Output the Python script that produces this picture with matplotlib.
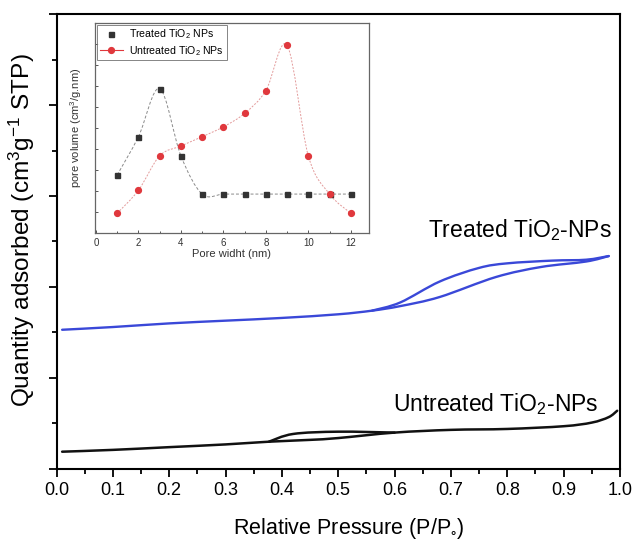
import numpy as np
import matplotlib
matplotlib.use('Agg')
import matplotlib.pyplot as plt
from matplotlib.path import Path
from matplotlib.patches import PathPatch
from matplotlib.lines import Line2D
from matplotlib.ticker import MultipleLocator

plt.rcParams['font.family'] = ['Liberation Sans', 'DejaVu Sans']
plt.rcParams['mathtext.fontset'] = 'custom'
plt.rcParams['mathtext.rm'] = 'Liberation Sans'
plt.rcParams['mathtext.it'] = 'Liberation Sans'

# isotermas de adsorção/dessorção de N2
treated_ads_x = [0.01, 0.10, 0.20, 0.30, 0.40, 0.50, 0.56, 0.61, 0.68, 0.78, 0.86, 0.94, 0.98]
treated_ads_y = [1.53, 1.56, 1.60, 1.63, 1.66, 1.70, 1.74, 1.79, 1.89, 2.11, 2.22, 2.28, 2.34]
treated_des_x = [0.98, 0.94, 0.88, 0.80, 0.75, 0.68, 0.61, 0.56]
treated_des_y = [2.34, 2.30, 2.29, 2.26, 2.21, 2.06, 1.83, 1.74]

untreated_ads_x = [0.01, 0.10, 0.20, 0.30, 0.377, 0.45, 0.50, 0.60, 0.70, 0.80, 0.90, 0.95, 0.98, 0.995]
untreated_ads_y = [0.19, 0.21, 0.24, 0.27, 0.30, 0.32, 0.34, 0.40, 0.43, 0.44, 0.47, 0.51, 0.57, 0.64]
untreated_des_x = [0.60, 0.50, 0.42, 0.377]
untreated_des_y = [0.40, 0.41, 0.385, 0.30]

# distribuição de tamanho de poros (inset)
pore_w = [1, 2, 3, 4, 5, 6, 7, 8, 9, 10, 11, 12]
pore_treated = [2.76, 4.58, 6.87, 3.67, 1.85, 1.85, 1.85, 1.85, 1.85, 1.85, 1.85, 1.85]
pore_untreated = [0.94, 2.03, 3.67, 4.14, 4.58, 5.05, 5.69, 6.77, 8.93, 3.67, 1.85, 0.94]


def curva_suave(x, y):
    # caminho bezier (catmull-rom) passando pelos pontos
    p = np.column_stack([x, y]).astype(float)
    verts = [p[0]]
    codes = [Path.MOVETO]
    n = len(p)
    for i in range(n - 1):
        p0 = p[i - 1] if i > 0 else p[i]
        p3 = p[i + 2] if i + 2 < n else p[i + 1]
        c1 = p[i] + (p[i + 1] - p0) / 6
        c2 = p[i + 1] - (p3 - p[i]) / 6
        verts += [c1, c2, p[i + 1]]
        codes += [Path.CURVE4] * 3
    return Path(verts, codes)


fig = plt.figure(figsize=(6.37, 5.43), dpi=100)
ax = fig.add_axes([0.0887, 0.1363, 0.8846, 0.8379])

azul = '#3a48d8'
for xs, ys in [(treated_ads_x, treated_ads_y), (treated_des_x, treated_des_y)]:
    ax.add_patch(PathPatch(curva_suave(xs, ys), fill=False, ec=azul, lw=1.7, capstyle='round'))
for xs, ys in [(untreated_ads_x, untreated_ads_y), (untreated_des_x, untreated_des_y)]:
    ax.add_patch(PathPatch(curva_suave(xs, ys), fill=False, ec='#111111', lw=1.8, capstyle='round'))

ax.set_xlim(0, 1)
ax.set_ylim(0, 5)
ax.xaxis.set_major_locator(MultipleLocator(0.1))
ax.xaxis.set_minor_locator(MultipleLocator(0.05))
ax.yaxis.set_major_locator(MultipleLocator(1))
ax.yaxis.set_minor_locator(MultipleLocator(0.5))
ax.set_yticklabels([])
ax.tick_params(which='both', direction='out', width=1.3, labelsize=13)
ax.tick_params(which='major', length=6)
ax.tick_params(which='minor', length=3.5)
ax.xaxis.set_major_formatter(matplotlib.ticker.FormatStrFormatter('%.1f'))
for s in ax.spines.values():
    s.set_linewidth(1.5)

ax.set_xlabel('Relative Pressure (P/P$_{\u2218}$)', fontsize=15.5)
ax.xaxis.set_label_coords(0.519, -0.103)
# rótulo do eixo y posicionado direto na figura
fig.text(0.035, 0.576, 'Quantity adsorbed (cm$^{3}$g$^{-1}$ STP)', fontsize=17.6,
         rotation=90, ha='center', va='center')

ax.text(0.986, 2.63, 'Treated TiO$_{2}$-NPs', fontsize=16.5, ha='right', va='center')
ax.text(0.962, 0.71, 'Untreated TiO$_{2}$-NPs', fontsize=16.5, ha='right', va='center')

# inset
ins = fig.add_axes([0.149, 0.571, 0.430, 0.387])
ins.add_patch(PathPatch(curva_suave(pore_w, pore_treated), fill=False, ec='#8a8a8a',
                        lw=0.7, ls=(0, (3, 2))))
ins.add_patch(PathPatch(curva_suave(pore_w, pore_untreated), fill=False, ec='#e39a9a',
                        lw=0.7, ls=(0, (2, 1.5))))
ins.plot(pore_w, pore_treated, 's', color='#333333', ms=3.6, ls='none')
ins.plot(pore_w, pore_untreated, 'o', color='#e0383d', ms=4.2, ls='none')

ins.set_xlim(-0.05, 12.85)
ins.set_ylim(0, 10)
ins.xaxis.set_major_locator(MultipleLocator(2))
ins.xaxis.set_minor_locator(MultipleLocator(1))
ins.yaxis.set_major_locator(MultipleLocator(1))
ins.set_yticklabels([])
ins.tick_params(which='both', direction='in', length=2.5, width=0.7, colors='#555555',
                labelsize=7, labelcolor='#333333')
ins.tick_params(which='minor', length=1.5)
for s in ins.spines.values():
    s.set_linewidth(0.9)
    s.set_color('#666666')
ins.set_xlabel('Pore widht (nm)', fontsize=8, labelpad=1, color='#333333')
ins.set_ylabel('pore volume (cm$^{3}$/g.nm)', fontsize=8, labelpad=4, color='#333333')

handles = [
    Line2D([], [], marker='s', color='#333333', ms=3.6, ls='none'),
    Line2D([], [], marker='o', color='#e0383d', ms=4.2, lw=0.8),
]
leg = ins.legend(handles, ['Treated TiO$_{2}$ NPs', 'Untreated TiO$_{2}$ NPs'],
                 loc='upper left', fontsize=7.6, frameon=True, fancybox=False,
                 borderaxespad=0.2, handlelength=2.2, borderpad=0.25, labelspacing=0.25,
                 handletextpad=0.6)
leg.get_frame().set_edgecolor('#666666')
leg.get_frame().set_linewidth(0.7)

fig.savefig('out.png', dpi=100)
